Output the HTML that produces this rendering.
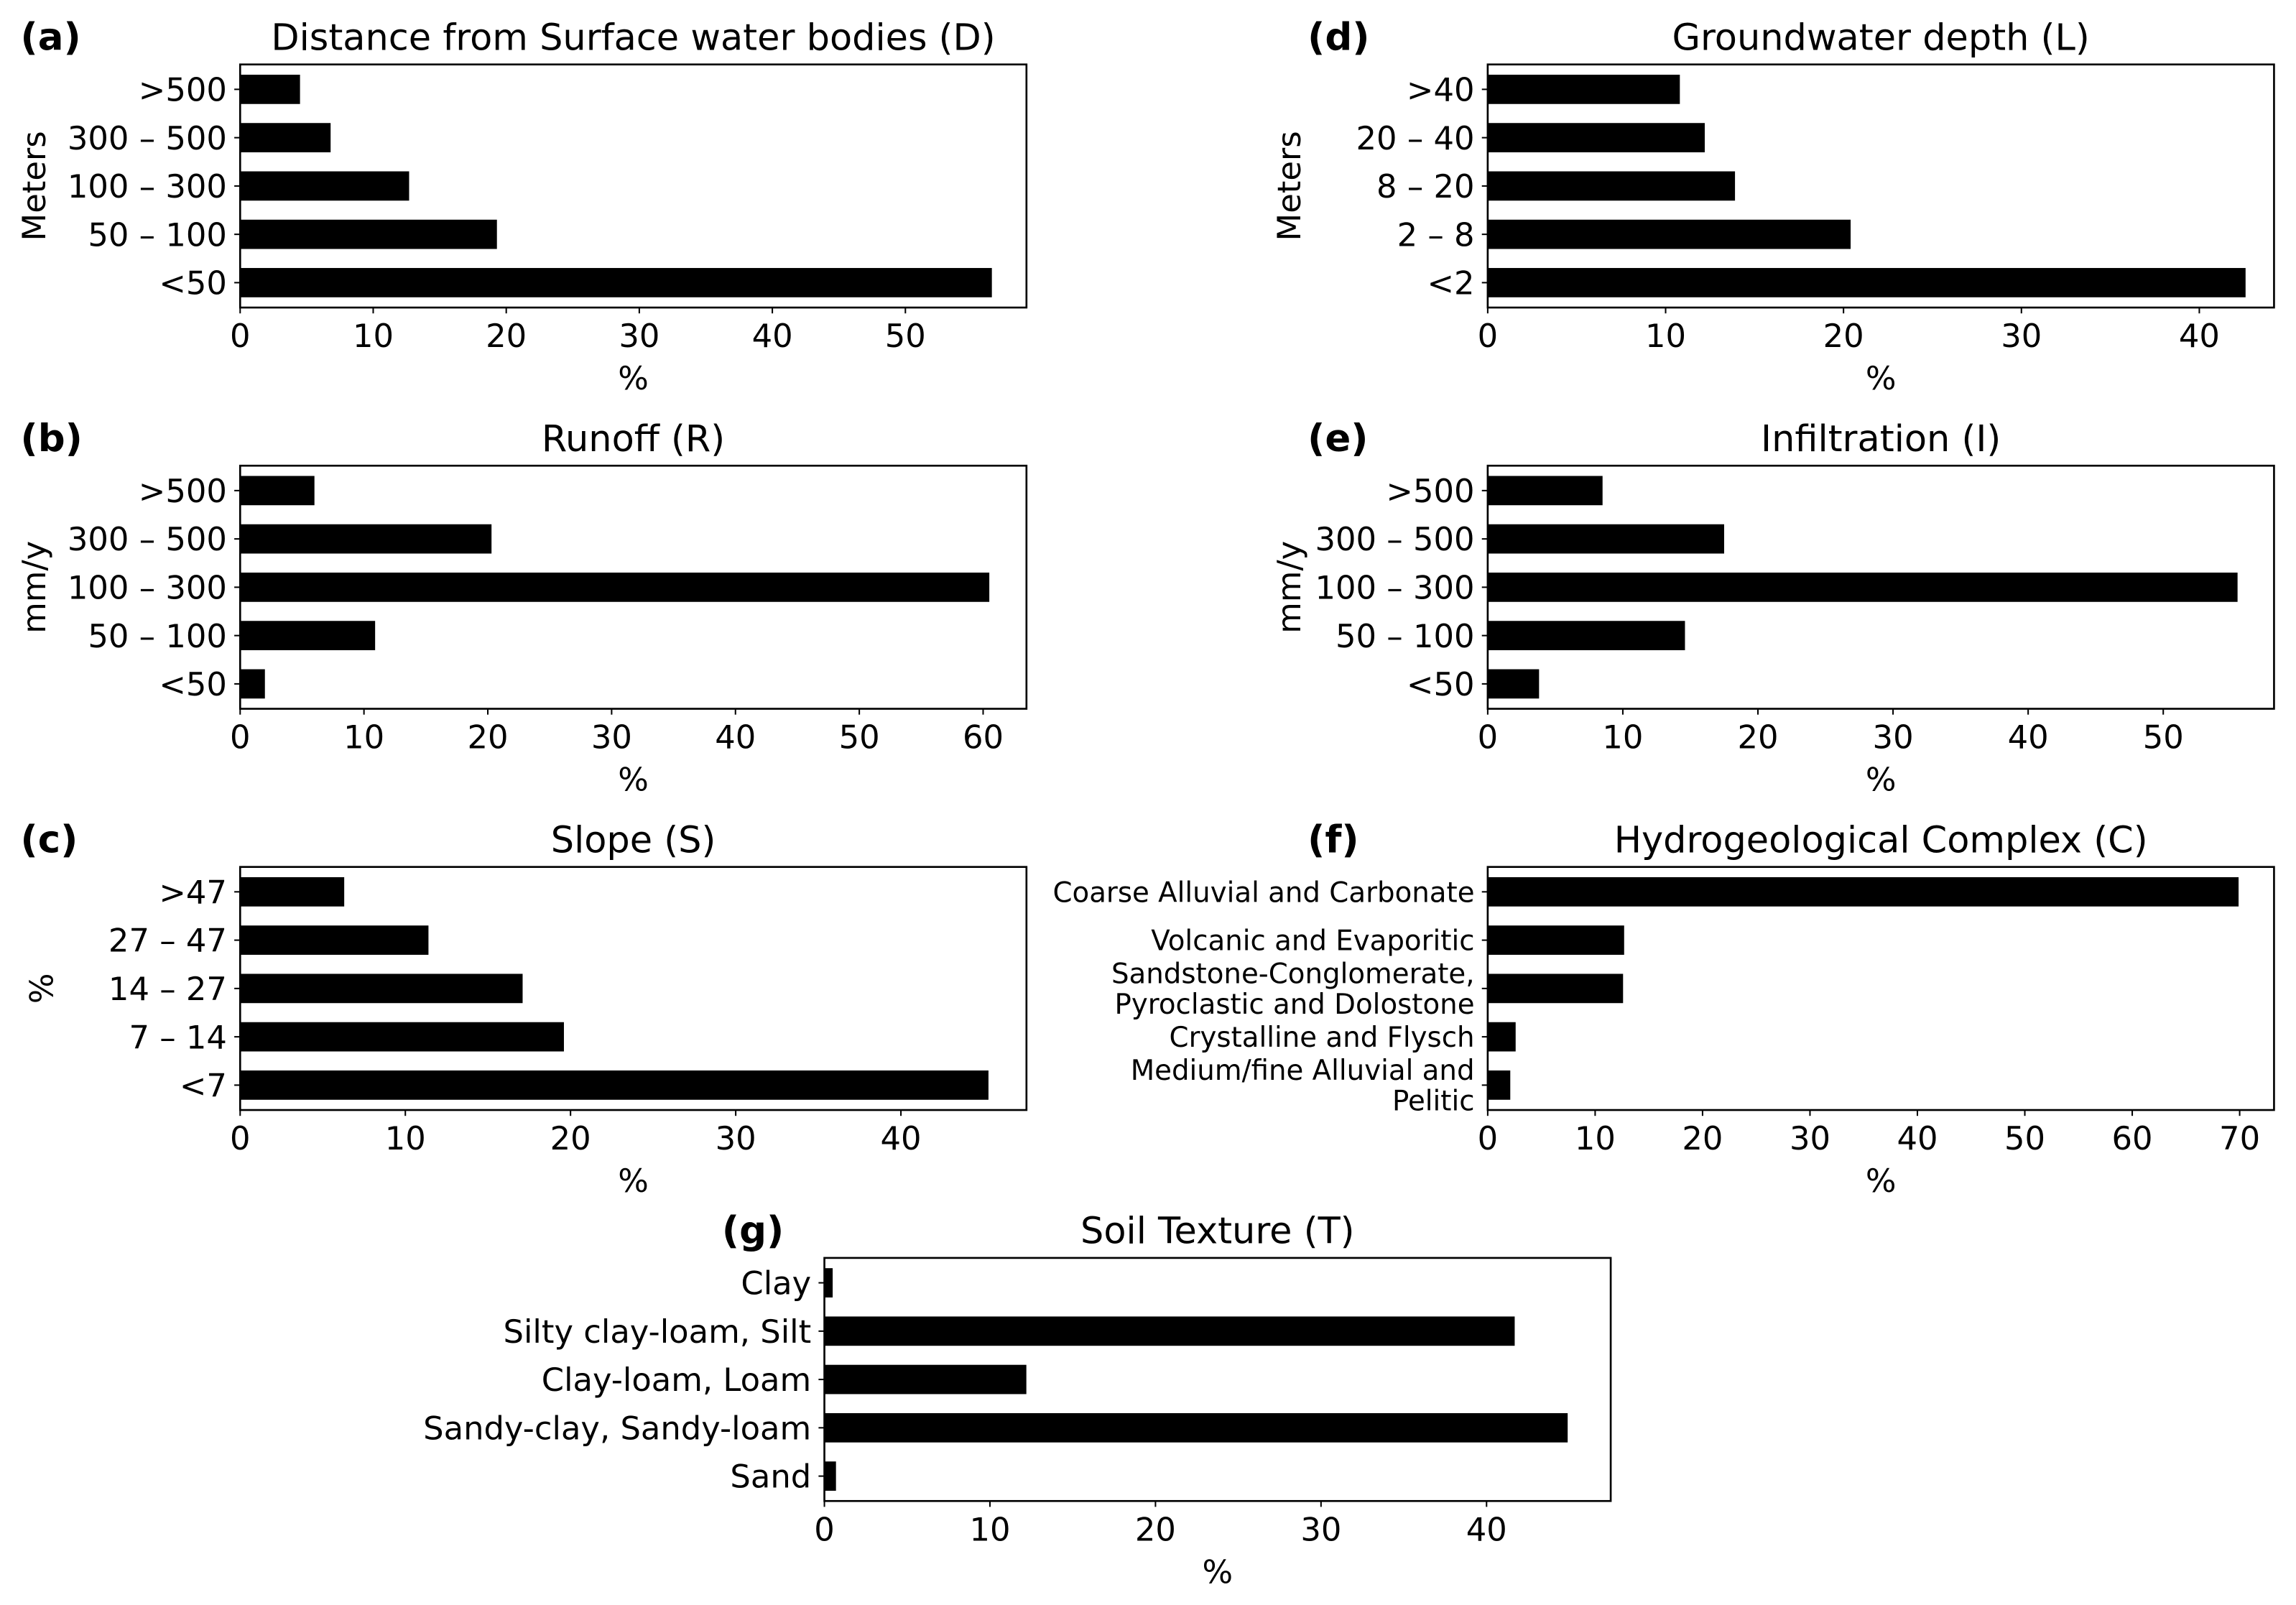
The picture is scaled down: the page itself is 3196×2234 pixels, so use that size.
<!DOCTYPE html>
<html><head><meta charset="utf-8"><style>
html,body{margin:0;padding:0;background:#fff;}
svg{display:block;}
text{font-family:"DejaVu Sans","Liberation Sans",sans-serif;fill:#000;}
</style></head>
<body>
<svg id="fig" width="3196" height="2234" viewBox="0 0 1568 1096" xmlns="http://www.w3.org/2000/svg"></svg>
<script>
// Panel data
const catsA = [">500","300 – 500","100 – 300","50 – 100","<50"];
const valsA = [4.5, 6.8, 12.7, 19.3, 56.5];
const ticksA = [0,10,20,30,40,50];
const catsD = [">40","20 – 40","8 – 20","2 – 8","<2"];
const valsD = [10.8, 12.2, 13.9, 20.4, 42.6];
const ticksD = [0,10,20,30,40];
const catsB = [">500","300 – 500","100 – 300","50 – 100","<50"];
const valsB = [6.0, 20.3, 60.5, 10.9, 2.0];
const ticksB = [0,10,20,30,40,50,60];
const catsE = [">500","300 – 500","100 – 300","50 – 100","<50"];
const valsE = [8.5, 17.5, 55.5, 14.6, 3.8];
const ticksE = [0,10,20,30,40,50];
const catsC = [">47","27 – 47","14 – 27","7 – 14","<7"];
const valsC = [6.3, 11.4, 17.1, 19.6, 45.3];
const ticksC = [0,10,20,30,40];
const catsF = [["Coarse Alluvial and Carbonate"],["Volcanic and Evaporitic"],["Sandstone-Conglomerate,","Pyroclastic and Dolostone"],["Crystalline and Flysch"],["Medium/fine Alluvial and","Pelitic"]];
const valsF = [69.9, 12.7, 12.6, 2.6, 2.1];
const ticksF = [0,10,20,30,40,50,60,70];
const catsG = ["Clay","Silty clay-loam, Silt","Clay-loam, Loam","Sandy-clay, Sandy-loam","Sand"];
const valsG = [0.5, 41.7, 12.2, 44.9, 0.7];
const ticksG = [0,10,20,30,40];

const NS="http://www.w3.org/2000/svg";
const svg=document.getElementById('fig');
function mk(tag,attrs,parent){const e=document.createElementNS(NS,tag);for(const k in attrs)e.setAttribute(k,attrs[k]);(parent||svg).appendChild(e);return e;}

function panel(o){
  const g=mk('g',{});
  
  
  const L=o.x, R=o.x+537, T=o.y, B=o.y+166;
  const sx=v=>L+(v/o.max)*(R-L);
  const n=o.cats.length;
  const sy=i=>T+17+i*((166-34)/(n-1));
  o.vals.forEach((v,i)=>{
    const r=mk('rect',{x:L,y:sy(i)-10,width:sx(v)-L,height:20,fill:'#000'},g);
    
    
  });
  const fr=mk('rect',{x:L,y:T,width:R-L,height:B-T,fill:'none',stroke:'#000','stroke-width':1.3},g);
  
  
  o.cats.forEach((c,i)=>{
    mk('line',{x1:L-4,x2:L,y1:sy(i),y2:sy(i),stroke:'#000','stroke-width':1},g);
    const lines=Array.isArray(c)?c:[c];
    const fs=o.yfs||22;
    lines.forEach((ln,j)=>{
      const t=mk('text',{x:L-9,y:sy(i)+fs*0.36+(j-(lines.length-1)/2)*fs*1.1,'text-anchor':'end','font-size':fs},g);
      t.textContent=ln;
      
      
    });
  });
  o.ticks.forEach(v=>{
    mk('line',{x1:sx(v),x2:sx(v),y1:B,y2:B+4,stroke:'#000','stroke-width':1},g);
    const t=mk('text',{x:sx(v),y:B+27,'text-anchor':'middle','font-size':22},g);
    t.textContent=v;
    
    
  });
  const xl=mk('text',{x:(L+R)/2,y:B+56,'text-anchor':'middle','font-size':22},g);
  xl.textContent='%';
  
  
  if(o.ylabel){
    const yl=mk('text',{x:0,y:0,'text-anchor':'middle','font-size':22,transform:`translate(${o.ylx},${(T+B)/2}) rotate(-90)`},g);
    yl.textContent=o.ylabel;
    
    
  }
  const ti=mk('text',{x:(L+R)/2,y:T-10,'text-anchor':'middle','font-size':25},g);
  ti.textContent=o.title;
  
  
  const pl=mk('text',{x:o.plx,y:T-10,'font-size':26,'font-weight':'bold','font-family':'"Liberation Sans",sans-serif'},g);
  pl.textContent=o.pl;
  
  
}

panel({id:'a',x:164,y:44,max:59.1,cats:catsA,vals:valsA,ticks:ticksA,title:'Distance from Surface water bodies (D)',ylabel:'Meters',ylx:31,pl:'(a)',plx:14});
panel({id:'d',x:1016,y:44,max:44.2,cats:catsD,vals:valsD,ticks:ticksD,title:'Groundwater depth (L)',ylabel:'Meters',ylx:888,pl:'(d)',plx:893});
panel({id:'b',x:164,y:318,max:63.5,cats:catsB,vals:valsB,ticks:ticksB,title:'Runoff (R)',ylabel:'mm/y',ylx:31,pl:'(b)',plx:14});
panel({id:'e',x:1016,y:318,max:58.2,cats:catsE,vals:valsE,ticks:ticksE,title:'Infiltration (I)',ylabel:'mm/y',ylx:888,pl:'(e)',plx:893});
panel({id:'c',x:164,y:592,max:47.6,cats:catsC,vals:valsC,ticks:ticksC,title:'Slope (S)',ylabel:'%',ylx:36,pl:'(c)',plx:14});
panel({id:'f',x:1016,y:592,max:73.2,cats:catsF,vals:valsF,ticks:ticksF,title:'Hydrogeological Complex (C)',yfs:19,pl:'(f)',plx:893});
panel({id:'g',x:563,y:859,max:47.5,cats:catsG,vals:valsG,ticks:ticksG,title:'Soil Texture (T)',pl:'(g)',plx:493});
</script>
</body></html>
